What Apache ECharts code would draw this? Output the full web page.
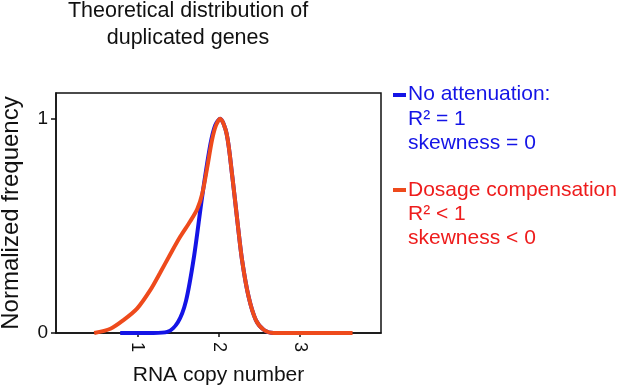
<!DOCTYPE html>
<html>
<head>
<meta charset="utf-8">
<script src="https://cdn.jsdelivr.net/npm/echarts@6/dist/echarts.min.js"></script>
<style>
  html, body { margin: 0; padding: 0; background: #fff; }
  #chart { width: 617px; height: 390px; }
</style>
</head>
<body>
<div id="chart"></div>
<script>
// values: [copy number, normalized frequency]
const noAttenuation = [
  [0.79, 0], [1.0, 0], [1.2, 0], [1.37, 0.005], [1.5, 0.05], [1.6, 0.15],
  [1.7, 0.36], [1.8, 0.64], [1.9, 0.88], [1.96, 0.97], [2.02, 1.0], [2.1, 0.93],
  [2.17, 0.73], [2.23, 0.53], [2.29, 0.34], [2.37, 0.17], [2.46, 0.06],
  [2.56, 0.014], [2.68, 0], [3.0, 0], [3.2, 0]
];
const dosageComp = [
  [0.47, 0], [0.67, 0.02], [0.83, 0.06], [1.0, 0.115], [1.16, 0.2], [1.28, 0.28],
  [1.41, 0.37], [1.53, 0.45], [1.65, 0.52], [1.74, 0.58], [1.8, 0.65], [1.86, 0.77],
  [1.92, 0.9], [1.97, 0.97], [2.02, 1.0], [2.1, 0.93], [2.17, 0.73], [2.23, 0.53],
  [2.29, 0.34], [2.37, 0.17], [2.46, 0.06], [2.56, 0.014], [2.68, 0], [3.2, 0], [3.65, 0]
];
const xTicks = [1, 2, 3];
const yTicks = [0, 1];

const blue = '#1414e6';
const orange = '#ee4a1c';
const red = '#ee1c1c';
const font = 'Liberation Sans, Arial, sans-serif';

const chart = echarts.init(document.getElementById('chart'));
chart.setOption({
  animation: false,
  title: {
    text: 'Theoretical distribution of\nduplicated genes',
    left: 183,
    top: -7,
    textAlign: 'center',
    textStyle: { fontFamily: font, fontSize: 21.5, fontWeight: 'normal', color: '#111', lineHeight: 27 }
  },
  grid: {
    left: 56, right: 236, top: 93, bottom: 57,
    containLabel: false, outerBoundsMode: 'none',
    show: true, borderColor: '#111', borderWidth: 1.5, backgroundColor: 'transparent'
  },
  xAxis: {
    type: 'value',
    min: 0, max: 4,
    name: 'RNA copy number',
    nameLocation: 'middle',
    nameGap: 32,
    nameTextStyle: { fontFamily: font, fontSize: 21, color: '#111' },
    splitLine: { show: false },
    axisLine: { lineStyle: { color: '#111', width: 1.5 } },
    axisTick: { customValues: xTicks, length: 4, lineStyle: { color: '#111', width: 1.5 } },
    axisLabel: { customValues: xTicks, rotate: -90, margin: 9, fontFamily: font, fontSize: 18, color: '#111' }
  },
  yAxis: {
    type: 'value',
    min: 0, max: 1.12,
    name: 'Normalized frequency',
    nameLocation: 'middle',
    nameGap: 33,
    nameTextStyle: { fontFamily: font, fontSize: 24, color: '#111' },
    splitLine: { show: false },
    axisLine: { show: true, lineStyle: { color: '#111', width: 1.5 } },
    axisTick: { show: true, customValues: yTicks, length: 5, lineStyle: { color: '#111', width: 1.5 } },
    axisLabel: { customValues: yTicks, margin: 8, fontFamily: font, fontSize: 19, color: '#111' }
  },
  series: [
    {
      name: 'No attenuation',
      type: 'line',
      data: noAttenuation,
      smooth: 0.3,
      showSymbol: false,
      lineStyle: { color: blue, width: 4 },
      z: 2
    },
    {
      name: 'Dosage compensation',
      type: 'line',
      data: dosageComp,
      smooth: 0.3,
      showSymbol: false,
      lineStyle: { color: orange, width: 4 },
      z: 3
    }
  ],
  graphic: [
    { type: 'rect', shape: { x: 393, y: 93, width: 13, height: 4 }, style: { fill: blue } },
    {
      type: 'text', left: 408, top: 82,
      style: { text: 'No attenuation:\nR² = 1\nskewness = 0', fill: blue, font: '21px ' + font, lineHeight: 24.5 }
    },
    { type: 'rect', shape: { x: 393, y: 188, width: 13, height: 4 }, style: { fill: orange } },
    {
      type: 'text', left: 408, top: 178,
      style: { text: 'Dosage compensation\nR² < 1\nskewness < 0', fill: red, font: '21px ' + font, lineHeight: 24 }
    }
  ]
});
</script>
</body>
</html>
